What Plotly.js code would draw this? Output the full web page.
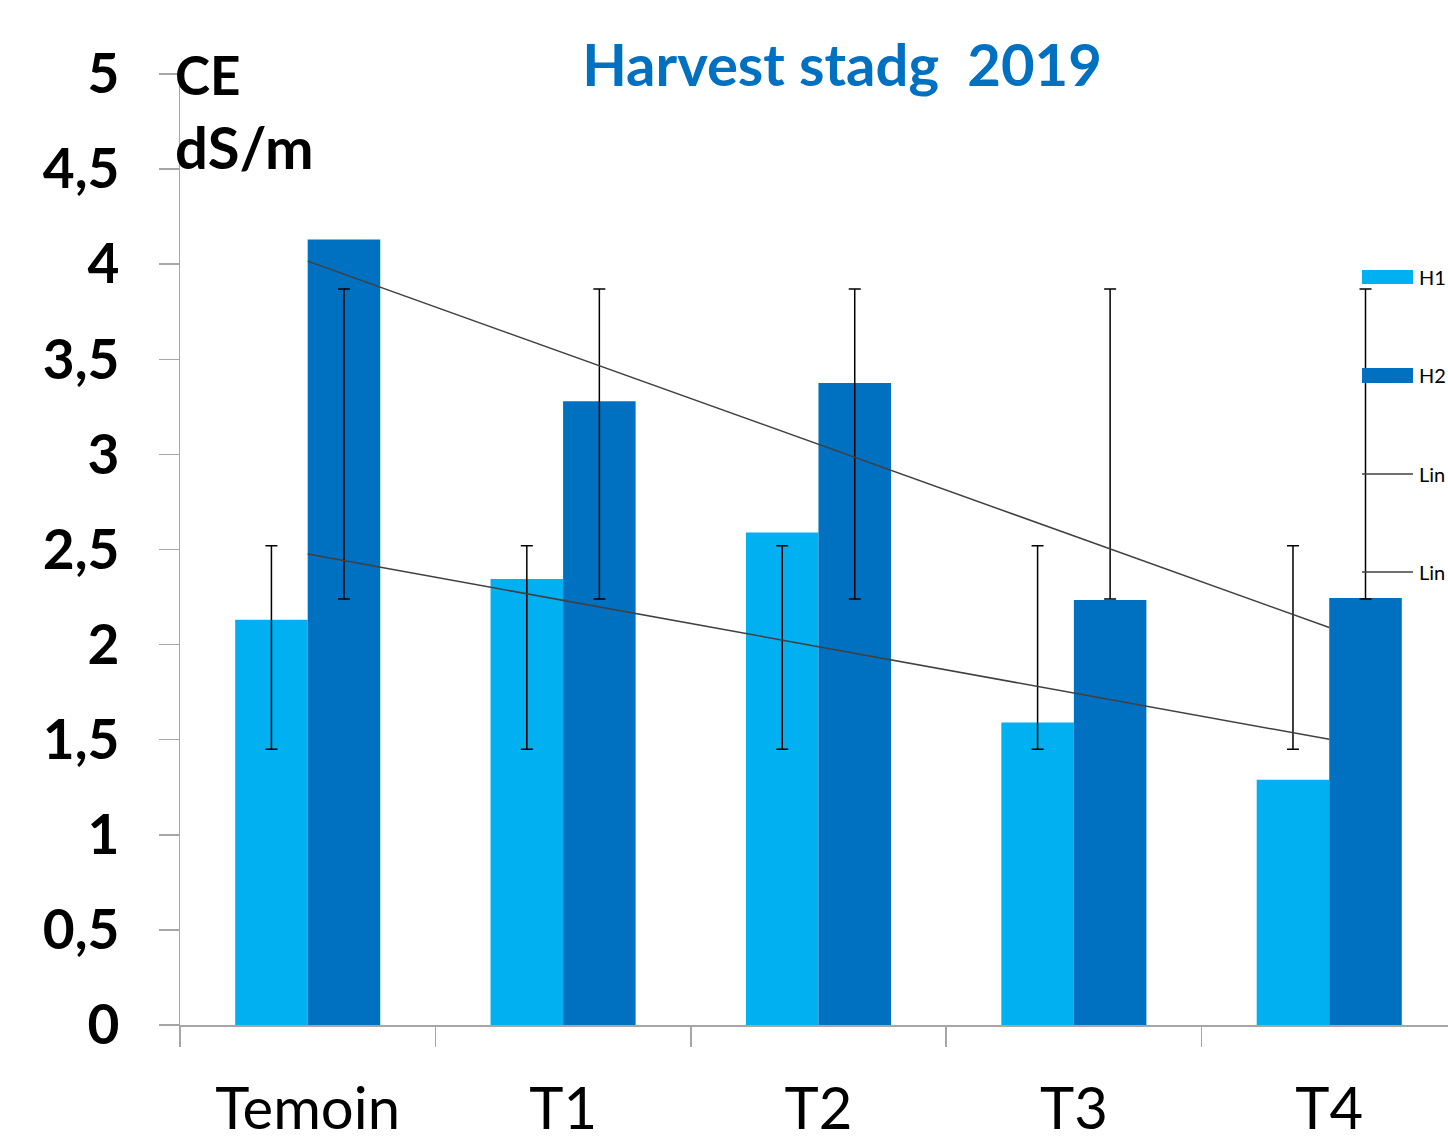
<!DOCTYPE html>
<html><head><meta charset="utf-8">
<script src="https://cdn.plot.ly/plotly-3.0.1.min.js"></script>
<style>html,body{margin:0;padding:0;background:#fff;} #chart{width:1448px;height:1143px;}</style>
</head><body><div id="chart"></div>
<script>
// ---- data ----
const categories = ['Temoin', 'T1', 'T2', 'T3', 'T4'];
const h1Values = [2.13, 2.345, 2.59, 1.59, 1.29];
const h2Values = [4.13, 3.28, 3.375, 2.235, 2.245];
const h1ErrLow = [1.45, 1.45, 1.45, 1.45, 1.45];
const h1ErrHigh = [2.52, 2.52, 2.52, 2.52, 2.52];
const h2ErrLow = [2.24, 2.24, 2.24, 2.24, 2.24];
const h2ErrHigh = [3.87, 3.87, 3.87, 3.87, 3.87];
const yTickVals = [0, 0.5, 1, 1.5, 2, 2.5, 3, 3.5, 4, 4.5, 5];
const yTickText = ['0', '0,5', '1', '1,5', '2', '2,5', '3', '3,5', '4', '4,5', '5'];
const seriesNames = ['H1', 'H2'];
const trendNames = ['Linear (H1)', 'Linear (H2)'];
const legendTexts = ['H1', 'H2', 'Lin', 'Lin'];   // as visible in the (cut-off) reference legend
const titleText = 'Harvest stadg \u00a02019';
const unitLines = ['CE', 'dS/m'];

// ---- styles ----
const C1 = '#00B0F0', C2 = '#0070C0', TREND = '#404040', AXIS = '#A6A6A6';
const FONT = 'Lato, "Open Sans", sans-serif';

// linear trend (least squares over category index), like Excel's linear trendline
function linearFit(vals) {
  const n = vals.length;
  const xs = vals.map((_, i) => i + 1);
  const mx = xs.reduce((a, b) => a + b, 0) / n;
  const my = vals.reduce((a, b) => a + b, 0) / n;
  let sxy = 0, sxx = 0;
  for (let i = 0; i < n; i++) { sxy += (xs[i] - mx) * (vals[i] - my); sxx += (xs[i] - mx) ** 2; }
  const b = sxy / sxx, a = my - b * mx;
  return xs.map(x => a + b * x);
}
const mid = (lo, hi) => lo.map((v, i) => (v + hi[i]) / 2);
const half = (lo, hi) => lo.map((v, i) => (hi[i] - v) / 2);

const traces = [
  {type: 'bar', name: seriesNames[0], x: categories, y: h1Values, offsetgroup: 'a',
   marker: {color: C1, line: {width: 0}}, hoverinfo: 'skip'},
  {type: 'bar', name: seriesNames[1], x: categories, y: h2Values, offsetgroup: 'b',
   marker: {color: C2, line: {width: 0}}, hoverinfo: 'skip'},
  {type: 'scatter', mode: 'markers', x: categories, y: mid(h1ErrLow, h1ErrHigh), offsetgroup: 'a',
   marker: {color: 'rgba(0,0,0,0)', size: 1},
   error_y: {type: 'data', array: half(h1ErrLow, h1ErrHigh), symmetric: true, color: '#000', thickness: 1.5, width: 6},
   hoverinfo: 'skip', showlegend: false},
  {type: 'scatter', mode: 'markers', x: categories, y: mid(h2ErrLow, h2ErrHigh), offsetgroup: 'b',
   marker: {color: 'rgba(0,0,0,0)', size: 1},
   error_y: {type: 'data', array: half(h2ErrLow, h2ErrHigh), symmetric: true, color: '#000', thickness: 1.5, width: 6},
   hoverinfo: 'skip', showlegend: false},
  {type: 'scatter', mode: 'lines', name: trendNames[0], x: categories, y: linearFit(h1Values), xaxis: 'x2', offsetgroup: 't',
   line: {color: TREND, width: 1.5}, hoverinfo: 'skip'},
  {type: 'scatter', mode: 'lines', name: trendNames[1], x: categories, y: linearFit(h2Values), xaxis: 'x2', offsetgroup: 't',
   line: {color: TREND, width: 1.5}, hoverinfo: 'skip'}
];

// plot area geometry (px) used to place the hand-made legend
const L = 180, R = 1448, T = 74, B = 1025;
const px = v => (v - L) / (R - L);
const py = v => (B - v) / (B - T);

const legendRows = [277, 375, 474, 572];
const shapes = [
  {type: 'rect', xref: 'paper', yref: 'paper', x0: px(1362), x1: px(1413), y0: py(284), y1: py(270), fillcolor: C1, line: {width: 0}},
  {type: 'rect', xref: 'paper', yref: 'paper', x0: px(1362), x1: px(1413), y0: py(383), y1: py(368), fillcolor: C2, line: {width: 0}},
  {type: 'line', xref: 'paper', yref: 'paper', x0: px(1362), x1: px(1413), y0: py(474), y1: py(474), line: {color: TREND, width: 1.5}},
  {type: 'line', xref: 'paper', yref: 'paper', x0: px(1362), x1: px(1413), y0: py(572), y1: py(572), line: {color: TREND, width: 1.5}}
];
const annotations = legendTexts.map((t, i) => ({
  xref: 'paper', yref: 'paper', x: px(1417), y: py(legendRows[i]), xanchor: 'left', yanchor: 'middle',
  text: t, showarrow: false, font: {family: FONT, size: 20, color: '#000'}
}));
annotations.push(
  {xref: 'paper', yref: 'paper', x: px(173), y: py(74), xanchor: 'left', yanchor: 'middle', text: unitLines[0],
   showarrow: false, font: {family: FONT, size: 53, color: '#000', weight: 'bold'}},
  {xref: 'paper', yref: 'paper', x: px(173), y: py(147), xanchor: 'left', yanchor: 'middle', text: unitLines[1],
   showarrow: false, font: {family: FONT, size: 58, color: '#000', weight: 'bold'}}
);

const xr = [-0.5, 4.465];
const layout = {
  width: 1448, height: 1143,
  margin: {l: L, r: 1448 - R, t: T, b: 1143 - B, pad: 0},
  paper_bgcolor: '#fff', plot_bgcolor: '#fff',
  barmode: 'group', bargap: 0.432, bargroupgap: 0,
  scattermode: 'group', scattergap: 0.432,
  showlegend: false,
  separators: ', ',
  font: {family: FONT, color: '#000'},
  title: {text: titleText, xref: 'container', yref: 'container', x: 842 / 1448, xanchor: 'center',
          y: 1 - 66 / 1143, yanchor: 'middle',
          font: {family: FONT, size: 58, color: C2, weight: 'bold'}},
  xaxis: {type: 'category', categoryorder: 'array', categoryarray: categories, range: xr,
          showline: true, linecolor: AXIS, linewidth: 1.5, ticks: 'outside', tickson: 'boundaries',
          ticklen: 20, tickcolor: AXIS, tickwidth: 1.5, ticklabelstandoff: 33,
          tickfont: {family: FONT, size: 58, color: '#000'}, showgrid: false, zeroline: false, fixedrange: true},
  xaxis2: {type: 'category', categoryorder: 'array', categoryarray: categories, range: xr,
           overlaying: 'x', visible: false, fixedrange: true},
  yaxis: {range: [0, 5], tickmode: 'array', tickvals: yTickVals, ticktext: yTickText,
          showline: true, linecolor: AXIS, linewidth: 1.5, ticks: 'outside', ticklen: 20,
          tickcolor: AXIS, tickwidth: 1.5, ticklabelstandoff: 28,
          tickfont: {family: FONT, size: 55, color: '#000', weight: 'bold'},
          showgrid: false, zeroline: false, fixedrange: true},
  shapes: shapes,
  annotations: annotations
};

Plotly.newPlot('chart', traces, layout, {displayModeBar: false, staticPlot: true});
</script>
</body></html>
